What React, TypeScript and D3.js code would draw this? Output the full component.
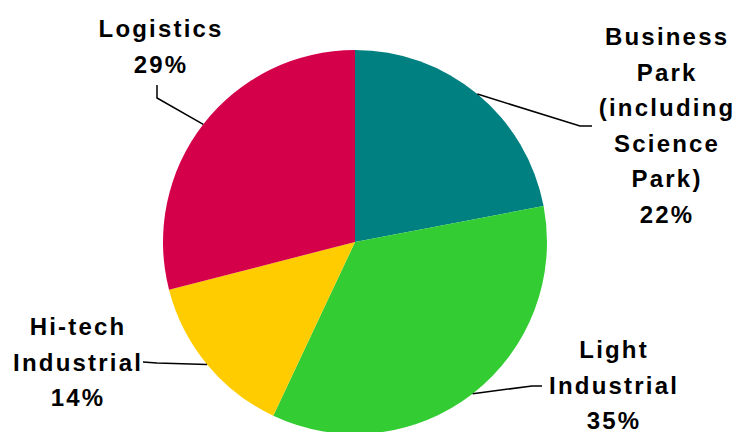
import React from "react";
import * as d3 from "d3";

const categories = ["Business Park (including Science Park)", "Light Industrial", "Hi-tech Industrial", "Logistics"];
const values = [22, 35, 14, 29];
const labelLines = [
  ["Business", "Park", "(including", "Science", "Park)", "22%"],
  ["Light", "Industrial", "35%"],
  ["Hi-tech", "Industrial", "14%"],
  ["Logistics", "29%"],
];
const colors = ["#008080", "#33CC33", "#FFCC00", "#D5004A"];

// layout
const W = 740, H = 432;
const cx = 355, cy = 242, R = 192;
const labelLayout = [
  { x: 666, y0: 45, elbow: [580, 126], end: [592, 126] },
  { x: 613, y0: 358, elbow: [532, 386], end: [542, 386] },
  { x: 77, y0: 335, elbow: [157, 363], end: [143, 362] },
  { x: 160, y0: 37, elbow: [157, 98], end: [157, 85] },
];
const lineH = 35.5;

export default function App() {
  const data = categories.map((c, i) => ({ c, v: values[i], i }));
  const pie = d3.pie<any>().value((d: any) => d.v).sort(null);
  const arcs = pie(data);
  const arc = d3.arc<any>().innerRadius(0).outerRadius(R);
  return (
    <svg width={W} height={H} style={{ position: "absolute", left: 0, top: 0, background: "#fff" }}
      fontFamily="'Liberation Sans', Arial, sans-serif">
      <g transform={`translate(${cx},${cy})`}>
        {arcs.map((a, i) => (
          <path key={i} d={arc(a) as string} fill={colors[i]} />
        ))}
      </g>
      {arcs.map((a, i) => {
        const mid = (a.startAngle + a.endAngle) / 2;
        const sx = cx + R * Math.sin(mid);
        const sy = cy - R * Math.cos(mid);
        const L = labelLayout[i];
        const pts = [[sx, sy], L.elbow, L.end];
        return (
          <path key={"l" + i} d={d3.line()(pts as any) as string} fill="none" stroke="#000" strokeWidth={1.5} />
        );
      })}
      {labelLines.map((lines, i) => (
        <text key={"t" + i} textAnchor="middle" fontWeight="bold" fontSize={24} letterSpacing={2.2} fill="#000">
          {lines.map((s, j) => (
            <tspan key={j} x={labelLayout[i].x + 1.1} y={labelLayout[i].y0 + j * lineH}>{s}</tspan>
          ))}
        </text>
      ))}
    </svg>
  );
}
